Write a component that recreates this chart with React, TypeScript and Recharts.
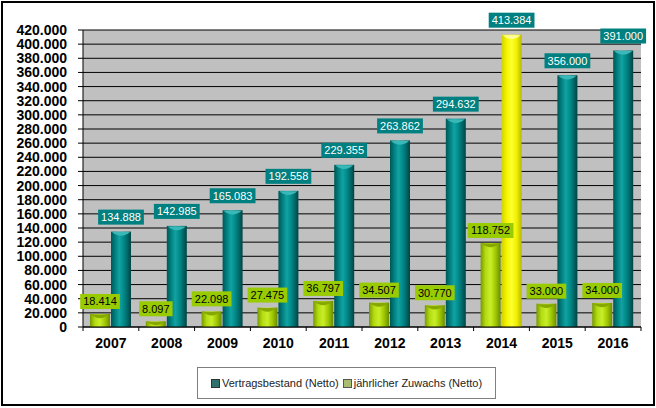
import React from 'react';
import { ComposedChart, Bar, XAxis, YAxis, CartesianGrid, Legend, LabelList, Cell } from 'recharts';

const years = ['2007', '2008', '2009', '2010', '2011', '2012', '2013', '2014', '2015', '2016'];
const vertragsbestand = [134888, 142985, 165083, 192558, 229355, 263862, 294632, 413384, 356000, 391000];
const zuwachs = [18414, 8097, 22098, 27475, 36797, 34507, 30770, 118752, 33000, 34000];
const highlightYear = '2014';
const yTicks = [0, 20000, 40000, 60000, 80000, 100000, 120000, 140000, 160000, 180000, 200000, 220000, 240000, 260000, 280000, 300000, 320000, 340000, 360000, 380000, 400000, 420000];

const data = years.map((year, i) => ({ year, bestand: vertragsbestand[i], zuwachs: zuwachs[i] }));

const FONT = '"Liberation Sans", Arial, sans-serif';
const BAR_SIZE = 20;
const BAR_GAP = 1;

const fmt = (v: number) => String(v).replace(/\B(?=(\d{3})+(?!\d))/g, '.');

const textWidth = (s: string) => {
  let w = 0;
  for (const ch of s) w += ch === '.' ? 3.06 : 6.12;
  return w;
};

const capColors: Record<string, string> = {
  'url(#gTeal)': '#3ab8b8',
  'url(#gYellow)': '#ffff9a',
  'url(#gGreen)': '#86a800',
};

const Cyl = (props: any) => {
  const { x, y, width, height, fill } = props;
  if (!height || height <= 0) return null;
  const cx = x + width / 2;
  const capH = Math.min(6, height);
  const cap = capColors[fill] || '#ffffff';
  return (
    <g>
      <rect x={x} y={y} width={width} height={height} fill={fill} />
      <path
        d={`M${x + 1},${y + 0.5} L${x + width - 1},${y + 0.5} Q${cx},${y + capH + 2} ${x + 1},${y + 0.5} Z`}
        fill={cap}
      />
    </g>
  );
};

const LabelBox = ({ cx, bottom, text, bg, color }: any) => {
  const w = textWidth(text) + 6;
  const h = 15;
  return (
    <g>
      <rect x={cx - w / 2} y={bottom - h} width={w} height={h} fill={bg} />
      <text
        x={cx}
        y={bottom - h / 2}
        dy="0.36em"
        textAnchor="middle"
        fontFamily={FONT}
        fontSize={11}
        fill={color}
      >
        {text}
      </text>
    </g>
  );
};

// Draws both labels of a category from the teal bar geometry, so that the
// green label stays on top of the neighbouring teal bar.
const PairLabels = (props: any) => {
  const { x, y, width, height, value, index } = props;
  if (value == null) return null;
  const base = y + height;
  const pxPerUnit = height / value;
  const g = zuwachs[index];
  const gx = x - BAR_GAP - width / 2;
  const gTop = base - g * pxPerUnit;
  return (
    <g>
      <LabelBox cx={gx} bottom={gTop - 5} text={fmt(g)} bg="#99cc00" color="#000" />
      <LabelBox cx={x + width / 2} bottom={y - 7} text={fmt(value)} bg="#008080" color="#fff" />
    </g>
  );
};

const XTick = (props: any) => {
  const { x, y, payload, index, visibleTicksCount, width } = props;
  const half = payload && typeof payload.offset === 'number' && payload.offset > 0
    ? payload.offset
    : width / visibleTicksCount / 2;
  const last = index === visibleTicksCount - 1;
  return (
    <g>
      <line x1={x - half} x2={x - half} y1={y} y2={y + 4} stroke="#000" />
      {last && <line x1={x + half} x2={x + half} y1={y} y2={y + 4} stroke="#000" />}
      <text
        x={x}
        y={y + 11}
        dy="0.71em"
        textAnchor="middle"
        fontFamily={FONT}
        fontSize={14}
        fontWeight="bold"
        fill="#000"
      >
        {payload.value}
      </text>
    </g>
  );
};

const LegendBox = () => (
  <div
    style={{
      width: '100%',
      height: '100%',
      boxSizing: 'border-box',
      border: '1px solid #7f7f7f',
      background: '#fff',
      display: 'flex',
      alignItems: 'center',
      justifyContent: 'center',
      fontFamily: FONT,
      fontSize: 11,
      color: '#222',
    }}
  >
    <span style={{ display: 'inline-block', width: 7, height: 7, background: '#2f706c', border: '1px solid #333', marginRight: 2 }} />
    <span style={{ marginRight: 4 }}>Vertragsbestand (Netto)</span>
    <span style={{ display: 'inline-block', width: 7, height: 7, background: '#a8bd72', border: '1px solid #555', marginRight: 2 }} />
    <span>jährlicher Zuwachs (Netto)</span>
  </div>
);

export default function App() {
  return (
    <div style={{ position: 'absolute', left: 0, top: 0, width: 656, height: 408, background: '#fff' }}>
      <ComposedChart
        width={656}
        height={408}
        data={data}
        margin={{ top: 30, right: 15, left: 0, bottom: 51 }}
        barSize={BAR_SIZE}
        barGap={BAR_GAP}
      >
        <defs>
          <linearGradient id="gTeal" x1="0" y1="0" x2="1" y2="0">
            <stop offset="0%" stopColor="#005656" />
            <stop offset="18%" stopColor="#007a7a" />
            <stop offset="42%" stopColor="#12a2a2" />
            <stop offset="65%" stopColor="#008888" />
            <stop offset="100%" stopColor="#004444" />
          </linearGradient>
          <linearGradient id="gYellow" x1="0" y1="0" x2="1" y2="0">
            <stop offset="0%" stopColor="#d0d000" />
            <stop offset="25%" stopColor="#f4f400" />
            <stop offset="50%" stopColor="#ffff30" />
            <stop offset="75%" stopColor="#f0f000" />
            <stop offset="100%" stopColor="#b8b800" />
          </linearGradient>
          <linearGradient id="gGreen" x1="0" y1="0" x2="1" y2="0">
            <stop offset="0%" stopColor="#769a00" />
            <stop offset="25%" stopColor="#b4dc10" />
            <stop offset="50%" stopColor="#c8ee2a" />
            <stop offset="75%" stopColor="#a0c800" />
            <stop offset="100%" stopColor="#6a8c00" />
          </linearGradient>
        </defs>
        <CartesianGrid horizontal vertical={false} stroke="#000" fill="#c0c0c0" fillOpacity={1} />
        <XAxis
          dataKey="year"
          height={30}
          tickLine={false}
          tickSize={0}
          tickMargin={0}
          axisLine={{ stroke: '#000' }}
          tick={<XTick />}
          interval={0}
        />
        <YAxis
          width={83}
          domain={[0, 420000]}
          ticks={yTicks}
          interval={0}
          tickFormatter={(v: number) => fmt(v)}
          tickSize={5}
          tickMargin={11}
          axisLine={{ stroke: '#000' }}
          tickLine={{ stroke: '#000' }}
          tick={{ fontFamily: FONT, fontSize: 14, fontWeight: 'bold', fill: '#000' }}
        />
        <Legend
          verticalAlign="middle"
          align="center"
          layout="horizontal"
          wrapperStyle={{ top: 367, left: 197, width: 299, height: 32 }}
          content={<LegendBox />}
        />
        <Bar
          dataKey="zuwachs"
          name="jährlicher Zuwachs (Netto)"
          fill="url(#gGreen)"
          shape={<Cyl />}
          isAnimationActive={false}
        />
        <Bar
          dataKey="bestand"
          name="Vertragsbestand (Netto)"
          fill="url(#gTeal)"
          shape={<Cyl />}
          isAnimationActive={false}
        >
          {data.map((d) => (
            <Cell key={d.year} fill={d.year === highlightYear ? 'url(#gYellow)' : 'url(#gTeal)'} />
          ))}
          <LabelList dataKey="bestand" content={<PairLabels />} />
        </Bar>
      </ComposedChart>
      <div
        style={{
          position: 'absolute',
          left: 1,
          top: 1,
          width: 654,
          height: 405,
          border: '2px solid #000',
          boxSizing: 'border-box',
          pointerEvents: 'none',
        }}
      />
    </div>
  );
}
